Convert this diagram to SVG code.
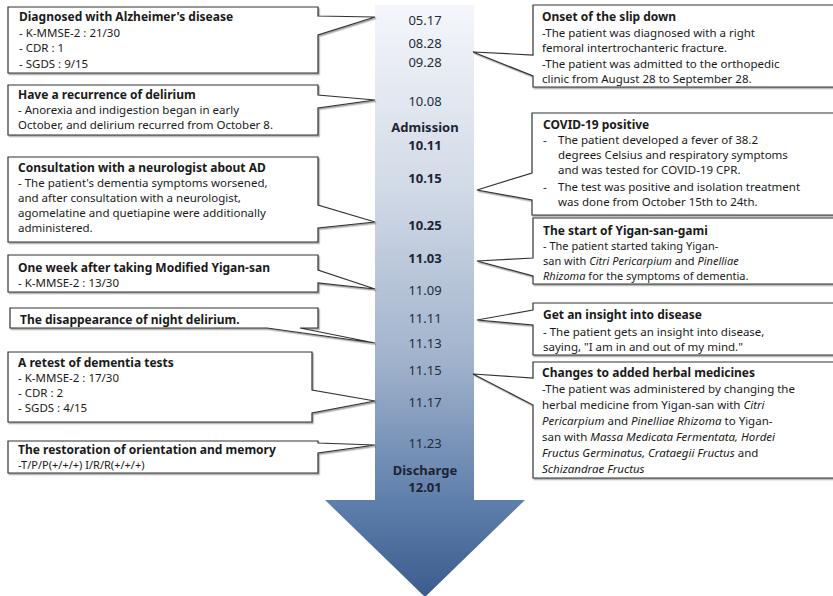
<svg xmlns="http://www.w3.org/2000/svg" width="833" height="596" viewBox="0 0 833 596">
<defs>
<linearGradient id="g" gradientUnits="userSpaceOnUse" x1="0" y1="5" x2="0" y2="597">
<stop offset="0" stop-color="#f4f6fa"/>
<stop offset="0.3" stop-color="#d3dbe8"/>
<stop offset="0.6" stop-color="#a1b3cc"/>
<stop offset="0.84" stop-color="#5e7eab"/>
<stop offset="1" stop-color="#3b5c8d"/>
</linearGradient>
<filter id="sh" x="-5%" y="-5%" width="115%" height="130%">
<feDropShadow dx="1.2" dy="1.5" stdDeviation="0.6" flood-color="#000" flood-opacity="0.35"/>
</filter>
</defs>
<style>
.box{fill:#fff;stroke:#333;stroke-width:1.2;filter:url(#sh)}
text{font-family:"Noto Sans","Open Sans","DejaVu Sans",sans-serif;fill:#1a1a1a}
.t{font-size:12px;font-weight:bold}
.b{font-size:11.5px}
.s{font-size:11px}
.i{font-style:italic}
.d{font-size:13px;fill:#232b38;text-anchor:middle}
.db{font-size:13px;font-weight:bold;fill:#1c2433;text-anchor:middle}
</style>
<rect width="833" height="596" fill="#fff"/>
<g id="timeline-arrow">
<path d="M375,5 H474 V500 H525 L425,597 L325,500 H375 Z" fill="url(#g)"/>
<text class="d" x="425" y="25">05.17</text>
<text class="d" x="425" y="48">08.28</text>
<text class="d" x="425" y="67">09.28</text>
<text class="d" x="425" y="106">10.08</text>
<text class="db" x="425" y="132">Admission</text>
<text class="db" x="425" y="150">10.11</text>
<text class="db" x="425" y="183">10.15</text>
<text class="db" x="425" y="230">10.25</text>
<text class="db" x="425" y="263">11.03</text>
<text class="d" x="425" y="295">11.09</text>
<text class="d" x="425" y="323">11.11</text>
<text class="d" x="425" y="348">11.13</text>
<text class="d" x="425" y="375">11.15</text>
<text class="d" x="425" y="407">11.17</text>
<text class="d" x="425" y="448">11.23</text>
<text class="db" x="425" y="475">Discharge</text>
<text class="db" x="425" y="492">12.01</text>
</g>
<g id="connectors"></g>
<g id="n-alzheimer">
<path class="box" d="M8,7 H318 V16 L375,17 L318,35 V73 H8 Z"/>
<text class="t" x="19" y="21">Diagnosed with Alzheimer's disease</text>
<text class="b" x="19" y="37">- K-MMSE-2 : 21/30</text>
<text class="b" x="19" y="52">- CDR : 1</text>
<text class="b" x="19" y="68">- SGDS : 9/15</text>
</g>
<g id="n-delirium">
<path class="box" d="M8,85 H318 V95 L375,100 L318,108 V135 H8 Z"/>
<text class="t" x="18" y="99">Have a recurrence of delirium</text>
<text class="b" x="18" y="114">- Anorexia and indigestion began in early</text>
<text class="b" x="18" y="129">October, and delirium recurred from October 8.</text>
</g>
<g id="n-neurologist">
<path class="box" d="M8,157 H318 V205 L375,222 L318,228 V242 H8 Z"/>
<text class="t" x="18" y="172">Consultation with a neurologist about AD</text>
<text class="b" x="18" y="187">- The patient's dementia symptoms worsened,</text>
<text class="b" x="18" y="202">and after consultation with a neurologist,</text>
<text class="b" x="18" y="217">agomelatine and quetiapine were additionally</text>
<text class="b" x="18" y="232">administered.</text>
</g>
<g id="n-oneweek">
<path class="box" d="M8,255 H318 V270 L375,289 L318,283 V292 H8 Z"/>
<text class="t" x="18" y="272">One week after taking Modified Yigan-san</text>
<text class="b" x="18" y="287">- K-MMSE-2 : 13/30</text>
</g>
<g id="n-night">
<path class="box" d="M10,308 H318 V328 H300 L375,343 L267,328 H10 Z"/>
<text class="t" x="20" y="324">The disappearance of night delirium.</text>
</g>
<g id="n-retest">
<path class="box" d="M8,352 H312 V390 L375,401 L312,413 V422 H8 Z"/>
<text class="t" x="18" y="367">A retest of dementia tests</text>
<text class="b" x="18" y="382">- K-MMSE-2 : 17/30</text>
<text class="b" x="18" y="397">- CDR : 2</text>
<text class="b" x="18" y="412">- SGDS : 4/15</text>
</g>
<g id="n-restoration">
<path class="box" d="M8,441 H318 V443 L375,445 L318,453 V473 H8 Z"/>
<text class="t" x="18" y="454">The restoration of orientation and memory</text>
<text class="s" x="18" y="469">-T/P/P(+/+/+) I/R/R(+/+/+)</text>
</g>
<g id="n-slip">
<path class="box" d="M533,5 H840 V87 H533 V76 L473,52 L533,55 Z"/>
<text class="t" x="542" y="21">Onset of the slip down</text>
<text class="b" x="542" y="37">-The patient was diagnosed with a right</text>
<text class="b" x="542" y="52">femoral intertrochanteric fracture.</text>
<text class="b" x="542" y="68">-The patient was admitted to the orthopedic</text>
<text class="b" x="542" y="83">clinic from August 28 to September 28.</text>
</g>
<g id="n-covid">
<path class="box" d="M532,113 H840 V215 H532 V200 L477,190 L532,173 Z"/>
<text class="t" x="543" y="129">COVID-19 positive</text>
<text class="b" x="543" y="144">-</text>
<text class="b" x="558" y="144">The patient developed a fever of 38.2</text>
<text class="b" x="558" y="159">degrees Celsius and respiratory symptoms</text>
<text class="b" x="558" y="174">and was tested for COVID-19 CPR.</text>
<text class="b" x="543" y="191">-</text>
<text class="b" x="558" y="191">The test was positive and isolation treatment</text>
<text class="b" x="558" y="206">was done from October 15th to 24th.</text>
</g>
<g id="n-yigan">
<path class="box" d="M533,218 H840 V284 H533 V276 L477,261 L533,258 Z"/>
<text class="t" x="543" y="235">The start of Yigan-san-gami</text>
<text class="s" x="543" y="250">- The patient started taking Yigan-</text>
<text class="s" x="543" y="265">san with <tspan class="i">Citri Pericarpium</tspan> and <tspan class="i">Pinelliae</tspan></text>
<text class="s" x="543" y="280"><tspan class="i">Rhizoma</tspan> for the symptoms of dementia.</text>
</g>
<g id="n-insight">
<path class="box" d="M533,303 H840 V355 H533 V325 L477,320 L533,310 Z"/>
<text class="t" x="543" y="319">Get an insight into disease</text>
<text class="b" x="543" y="336">- The patient gets an insight into disease,</text>
<text class="b" x="543" y="351">saying, "I am in and out of my mind."</text>
</g>
<g id="n-herbal">
<path class="box" d="M533,362 H840 V478 H533 V405 L473,374 L533,378 Z"/>
<text class="t" x="542" y="377">Changes to added herbal medicines</text>
<text class="b" x="542" y="393">-The patient was administered by changing the</text>
<text class="b" x="542" y="409">herbal medicine from Yigan-san with <tspan class="i">Citri</tspan></text>
<text class="b" x="542" y="425"><tspan class="i">Pericarpium</tspan> and <tspan class="i">Pinelliae Rhizoma</tspan>  to Yigan-</text>
<text class="b" x="542" y="441">san with  <tspan class="i">Massa Medicata Fermentata, Hordei</tspan></text>
<text class="b" x="542" y="457"><tspan class="i">Fructus Germinatus, Crataegii Fructus</tspan> and</text>
<text class="b" x="542" y="473"><tspan class="i">Schizandrae Fructus</tspan></text>
</g>
</svg>
